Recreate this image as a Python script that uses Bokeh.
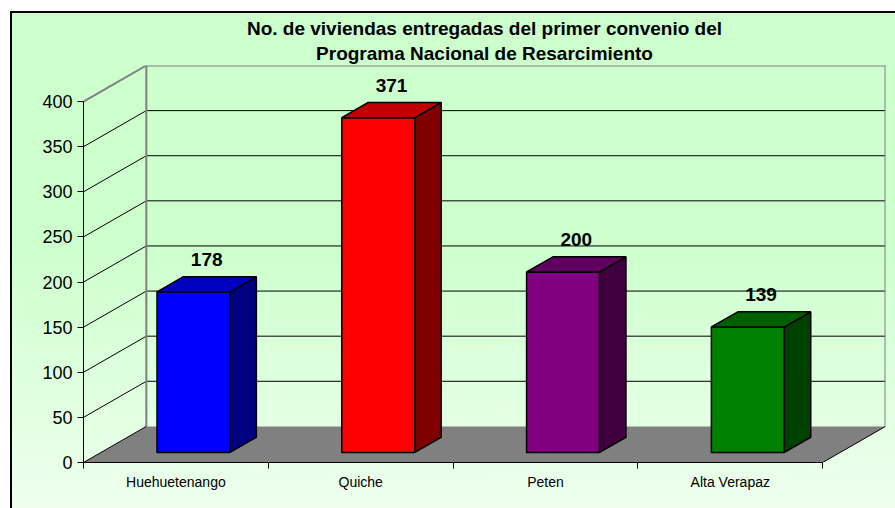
import numpy as np
from bokeh.plotting import figure
from bokeh.models import Range1d, FixedTicker, ColumnDataSource, Title
from bokeh.embed import file_html
from bokeh.resources import INLINE
from bokeh.core.properties import value

# ---------------- data ----------------
categories = ["Huehuetenango", "Quiche", "Peten", "Alta Verapaz"]
viviendas = [178, 371, 200, 139]
y_ticks = [0, 50, 100, 150, 200, 250, 300, 350, 400]
title_lines = ["No. de viviendas entregadas del primer convenio del",
               "Programa Nacional de Resarcimiento"]

# ---------------- styles ----------------
front_colors = ["#0000FF", "#FF0000", "#800080", "#008000"]
top_colors = ["#0000C0", "#C00000", "#600060", "#006000"]
side_colors = ["#000080", "#800000", "#400040", "#004000"]

FONT = "Liberation Sans"
n = len(categories)
Y_MAX = y_ticks[-1]
DX = 0.34      # depth of the 3D box in category units
DY = 40        # depth of the 3D box in value units
BAR_W = 0.395  # bar width (category units)
F0, F1 = 0.28, 0.70   # bar position inside the depth

p = figure(frame_width=802, frame_height=397,
           x_range=Range1d(0, n + DX), y_range=Range1d(0, Y_MAX + DY),
           output_backend="svg", toolbar_location=None, title_location=None,
           min_border_left=71, min_border_right=10,
           min_border_top=52, min_border_bottom=46)

p.styles = {
    "background": "linear-gradient(180deg, #CCFFCC 0%, #CCFFCC 45%, #EEFFEE 100%)",
    "border-left": "2px solid black",
    "border-top": "2px solid black",
    "margin-left": "10px",
    "margin-top": "11px",
}
p.border_fill_color = None
p.background_fill_color = None
p.outline_line_color = None
p.xgrid.visible = False
p.ygrid.visible = False

# ---------------- walls ----------------
inner = y_ticks[1:-1]
# side wall grid lines
p.segment(x0=[0] * len(inner), y0=inner, x1=[DX] * len(inner),
          y1=[t + DY for t in inner], line_color="black", line_width=1)
# back wall grid lines
p.segment(x0=[DX] * len(inner), y0=[t + DY for t in inner],
          x1=[n + DX] * len(inner), y1=[t + DY for t in inner],
          line_color="black", line_width=1)
# wall edges (grey)
p.segment(x0=[0, DX, DX, n + DX], y0=[Y_MAX, Y_MAX + DY, DY, DY],
          x1=[DX, n + DX, DX, n + DX], y1=[Y_MAX + DY, Y_MAX + DY, Y_MAX + DY, Y_MAX + DY],
          line_color="#808080", line_width=2)

# ---------------- floor ----------------
p.patch([0, n, n + DX, DX], [0, 0, DY, DY], fill_color="#808080", line_color=None)
p.segment(x0=[0, n], y0=[0, 0], x1=[DX, n + DX], y1=[DY, DY],
          line_color="black", line_width=1)

# ---------------- bars ----------------
ddx = (F1 - F0) * DX
ddy = (F1 - F0) * DY
fx, fy, tx, ty, sx, sy = [], [], [], [], [], []
lx, ly = [], []
for i, v in enumerate(viviendas):
    cx = i + 0.5 + F0 * DX
    xl, xr = cx - BAR_W / 2, cx + BAR_W / 2
    yb = F0 * DY
    yt = yb + v
    fx.append([xl, xr, xr, xl]); fy.append([yb, yb, yt, yt])
    tx.append([xl, xr, xr + ddx, xl + ddx]); ty.append([yt, yt, yt + ddy, yt + ddy])
    sx.append([xr, xr + ddx, xr + ddx, xr]); sy.append([yb, yb + ddy, yt + ddy, yt])
    lx.append(cx + ddx / 2); ly.append(yt + ddy)

p.patches(fx, fy, fill_color=front_colors, line_color="black", line_width=1.5)
p.patches(sx, sy, fill_color=side_colors, line_color="black", line_width=1.5)
p.patches(tx, ty, fill_color=top_colors, line_color="black", line_width=1.5)

lab = ColumnDataSource(dict(x=lx, y=ly, t=[str(v) for v in viviendas]))
p.text(x="x", y="y", text="t", source=lab, text_align="center",
       text_baseline="middle", y_offset=-17,
       text_font=value(FONT), text_font_style="bold",
       text_font_size="19px", text_color="black")

# ---------------- axes ----------------
p.yaxis.ticker = FixedTicker(ticks=y_ticks)
p.yaxis.bounds = (0, Y_MAX)
p.yaxis.major_tick_out = 6
p.yaxis.major_tick_in = 0
p.yaxis.minor_tick_line_color = None
p.yaxis.axis_line_color = "black"
p.yaxis.major_tick_line_color = "black"
p.yaxis.major_label_standoff = 5
p.yaxis.major_label_text_font = FONT
p.yaxis.major_label_text_font_size = "18px"
p.yaxis.major_label_text_color = "black"

centers = [i + 0.5 for i in range(n)]
p.xaxis.ticker = FixedTicker(ticks=centers, minor_ticks=list(range(n + 1)))
p.xaxis.major_label_overrides = {c: lbl for c, lbl in zip(centers, categories)}
p.xaxis.bounds = (0, n)
p.xaxis.major_tick_line_color = None
p.xaxis.major_tick_out = 0
p.xaxis.major_tick_in = 0
p.xaxis.minor_tick_out = 6
p.xaxis.minor_tick_in = 0
p.xaxis.minor_tick_line_color = "black"
p.xaxis.axis_line_color = "black"
p.xaxis.major_label_standoff = 5
p.xaxis.major_label_text_font = FONT
p.xaxis.major_label_text_font_size = "14px"
p.xaxis.major_label_text_color = "black"

# ---------------- title (one centred Title per line) ----------------
for k, line in enumerate(reversed(title_lines)):
    p.add_layout(Title(text=line, align="center", offset=-6,
                       standoff=4 if k == 0 else 0,
                       text_font=FONT, text_font_size="19px",
                       text_font_style="bold", text_color="black"), "above")

open("out.html", "w").write(file_html(p, INLINE))
